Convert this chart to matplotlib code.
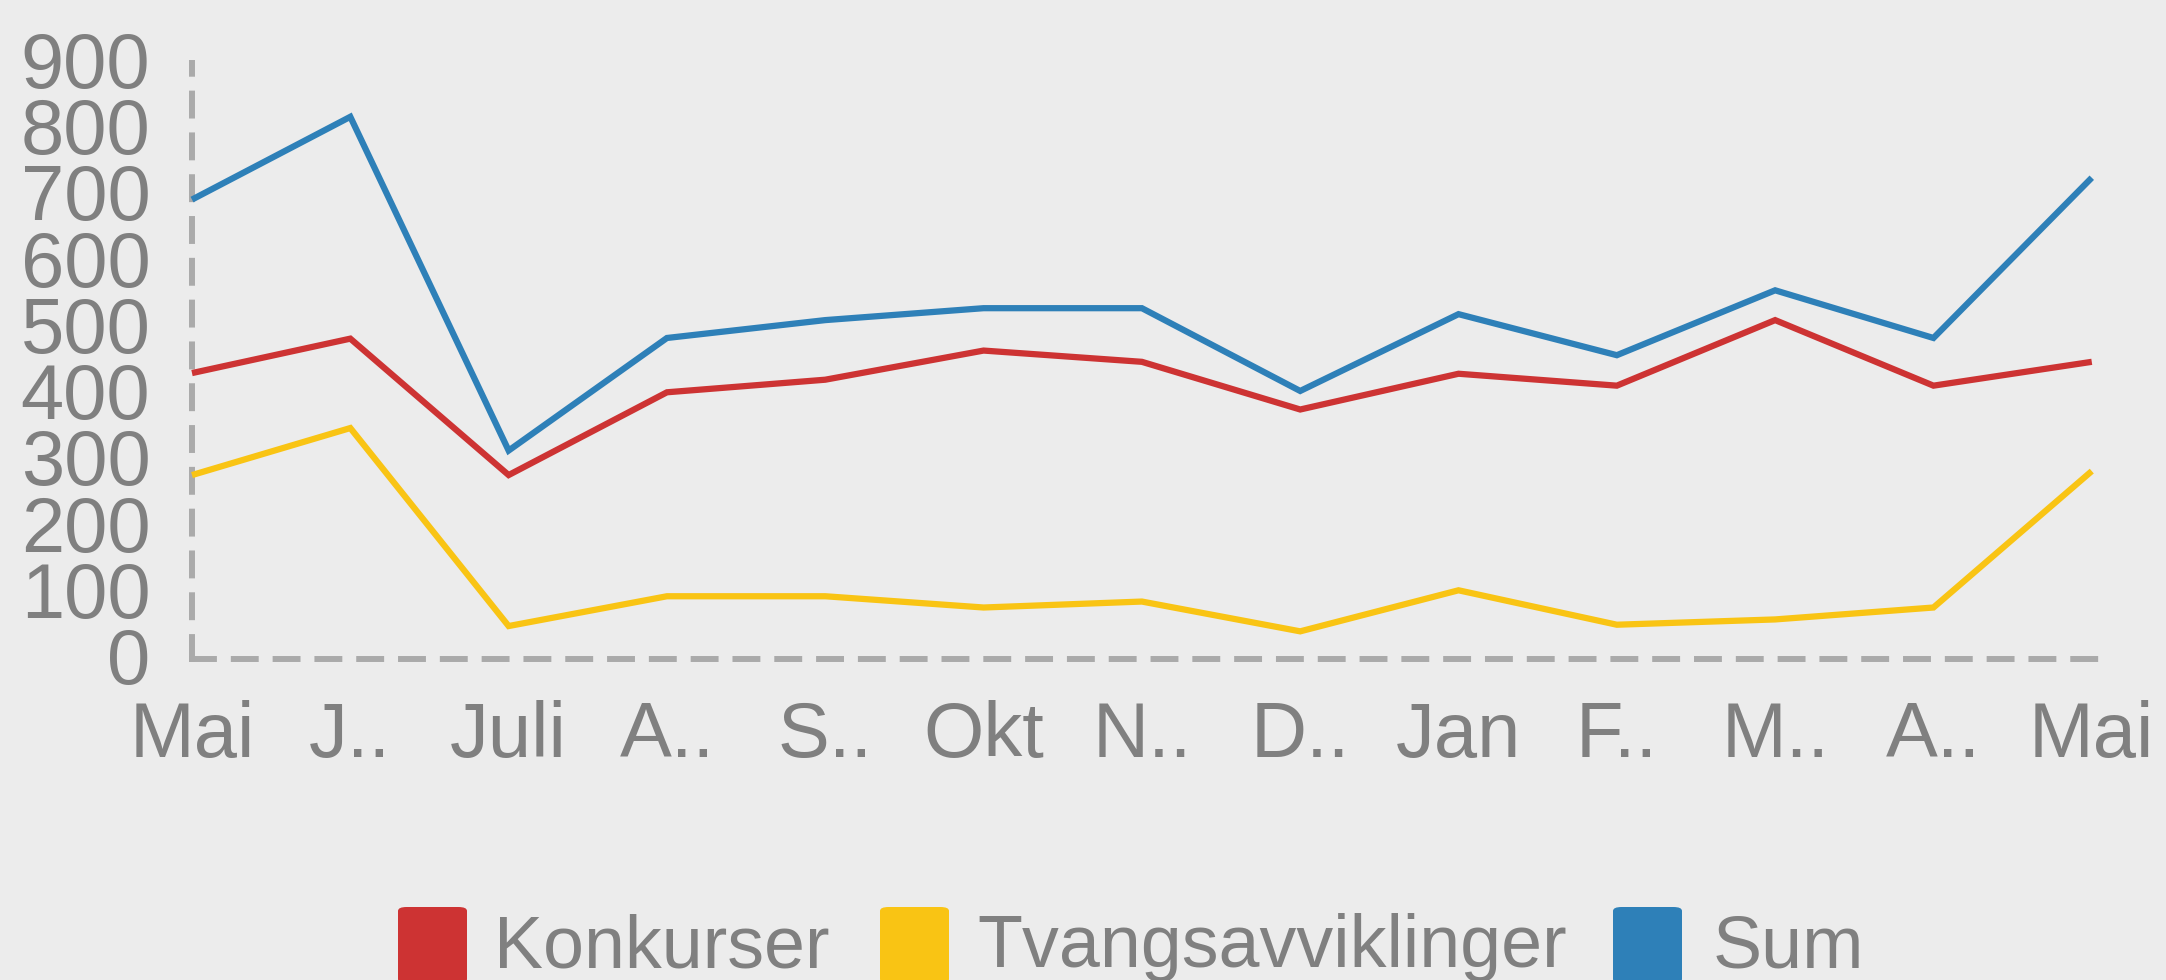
import matplotlib
matplotlib.use("Agg")
import matplotlib.pyplot as plt
from matplotlib.patches import FancyBboxPatch
from matplotlib.transforms import ScaledTranslation

# ------------------------------------------------------------------------------
# data

months = ["Mai", "J..", "Juli", "A..", "S..", "Okt", "N..",
          "D..", "Jan", "F..", "M..", "A..", "Mai"]
konkurser = [431, 483, 277, 402, 421, 465, 448, 376, 430, 412, 511, 412, 448]
tvangsavviklinger = [277, 348, 49, 94, 94, 77, 86, 41, 103, 51, 59, 77, 283]
total = [693, 818, 314, 484, 511, 529, 529, 404, 520, 458, 556, 484, 726]

series_names = ["Konkurser", "Tvangsavviklinger", "Sum"]
series_colors = ["#CD3333", "#F9C414", "#2E80B8"]

# ------------------------------------------------------------------------------

W, H = 2166, 980
BG = "#ECECEC"
TXT = "#808080"
AXC = "#AAAAAA"

plt.rcParams["font.family"] = ["Liberation Sans", "DejaVu Sans"]

fig = plt.figure(figsize=(W / 100, H / 100), dpi=100, facecolor=BG)

left, right, top, bottom = 192, 2097, 62.5, 658.5
ax = fig.add_axes([left / W, 1 - bottom / H, (right - left) / W, (bottom - top) / H])
ax.set_facecolor(BG)

xs = list(range(len(months)))
for vals, col in zip([konkurser, tvangsavviklinger, total], series_colors):
    ax.plot(xs, vals, color=col, lw=4.5, clip_on=False,
            solid_joinstyle="miter", solid_capstyle="butt", zorder=3)

ax.set_xlim(0.044, 12.033)
ax.set_ylim(0, 900)
ax.set_xticks(xs, months)
ax.set_yticks(range(0, 901, 100))
ax.tick_params(length=0, labelsize=56, labelcolor=TXT)
ax.tick_params(axis="x", pad=30)
ax.tick_params(axis="y", pad=30)
# nudge the y labels up a touch
shift = ScaledTranslation(0, 3 / 100, fig.dpi_scale_trans)
for lab in ax.get_yticklabels():
    lab.set_verticalalignment("center_baseline")
    lab.set_transform(lab.get_transform() + shift)

for s in ["top", "right"]:
    ax.spines[s].set_visible(False)
for s in ["left", "bottom"]:
    ax.spines[s].set_color(AXC)
    ax.spines[s].set_linewidth(4.3)
    ax.spines[s].set_linestyle((0, (3.67, 3.33)))

# legend, drawn by hand to get the rounded colour boxes
box_x = [398, 880, 1613]
text_x = [494, 977, 1713]
for name, col, bx, tx in zip(series_names, series_colors, box_x, text_x):
    fig.patches.append(FancyBboxPatch(
        (bx / W, 1 - 983 / H), 69 / W, 76 / H,
        boxstyle="round,pad=0,rounding_size=0.004",
        transform=fig.transFigure, facecolor=col, edgecolor="none"))
    fig.text(tx / W, 1 - 967 / H, name, fontsize=53, color=TXT,
             ha="left", va="baseline")

fig.savefig("out.png", dpi=100, facecolor=BG)
